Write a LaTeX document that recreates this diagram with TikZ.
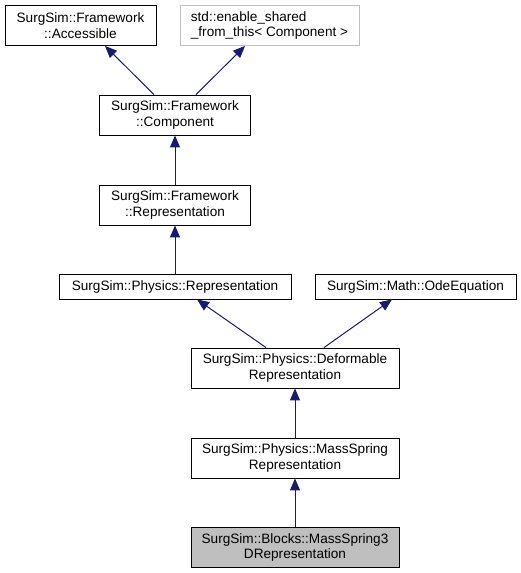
\documentclass[tikz,border=0pt]{standalone}
\usepackage{fontspec}
\setmainfont{Liberation Sans}
\usetikzlibrary{arrows.meta}
\definecolor{edgeblue}{HTML}{191970}
\definecolor{boxgray}{HTML}{BFBFBF}

\begin{document}
\begin{tikzpicture}[x=1pt,y=-1pt]
            \tikzstyle{every node}+=[inner sep=0pt,font=\fontsize{13.6}{15.5}\selectfont]
            \tikzstyle{cls}=[draw=black,line width=0.9pt,align=center,minimum height=40pt]
            \tikzstyle{inherit}=[draw=edgeblue,line width=1pt,{Triangle[length=12pt,width=10pt]}-]
            \useasboundingbox (0,0) rectangle (521,573);
            \node [cls,minimum width=151pt] (acc) at (80.5,25.5) {SurgSim::Framework\\::Accessible};
            \node [cls,draw=boxgray,minimum width=179pt,align=left] (esf) at (269.5,25.5) {std::enable\_shared\\\_from\_this< Component >};
            \node [cls,minimum width=151pt] (comp) at (175,115) {SurgSim::Framework\\::Component};
            \node [cls,minimum width=151pt] (frep) at (175,205) {SurgSim::Framework\\::Representation};
            \node [cls,minimum width=232pt,minimum height=25pt] (prep) at (175,286.5) {SurgSim::Physics::Representation};
            \node [cls,minimum width=201pt,minimum height=25pt] (ode) at (415.5,286.5) {SurgSim::Math::OdeEquation};
            \node [cls,minimum width=208pt] (def) at (295,368) {SurgSim::Physics::Deformable\\Representation};
            \node [cls,minimum width=208pt] (msr) at (295,458) {SurgSim::Physics::MassSpring\\Representation};
            \node [cls,fill=boxgray,minimum width=208pt] (blk) at (295,547.5) {SurgSim::Blocks::MassSpring3\\DRepresentation};
            \draw [inherit] ([xshift=24.5pt]acc.south) -- ([xshift=-21pt]comp.north);
            \draw [inherit] ([xshift=-24.5pt]esf.south) -- ([xshift=21pt]comp.north);
            \draw [inherit] (comp) -- (frep);
            \draw [inherit] (frep) -- (prep);
            \draw [inherit] ([xshift=22pt]prep.south) -- ([xshift=-29pt]def.north);
            \draw [inherit] ([xshift=-23.5pt]ode.south) -- ([xshift=29pt]def.north);
            \draw [inherit] (def) -- (msr);
            \draw [inherit] (msr) -- (blk);
\end{tikzpicture}
\end{document}
